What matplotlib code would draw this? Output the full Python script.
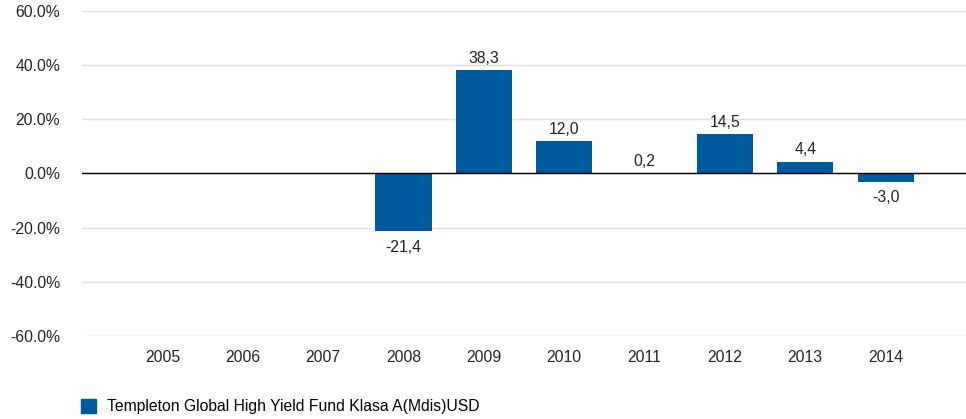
import matplotlib.pyplot as plt
from matplotlib.patches import Patch

plt.rcParams['font.family'] = ['Liberation Sans', 'DejaVu Sans']

years = ['2005', '2006', '2007', '2008', '2009', '2010', '2011', '2012', '2013', '2014']
returns = [None, None, None, -21.4, 38.3, 12.0, 0.2, 14.5, 4.4, -3.0]
series_name = 'Templeton Global High Yield Fund Klasa A(Mdis)USD'
bar_color = '#005a9e'
fs = 11.3

fig = plt.figure(figsize=(9.66, 4.19), dpi=100)
ax = fig.add_axes([0.085, 0.198, 0.915, 0.776])

for i, v in enumerate(returns):
    if v is None:
        continue
    ax.bar(i, v, width=0.7, color=bar_color, zorder=3)
    label = f'{v:.1f}'.replace('.', ',')
    if v >= 0:
        ax.annotate(label, (i, v), xytext=(0, 3), textcoords='offset points',
                    ha='center', va='bottom', fontsize=fs, color='#222222')
    else:
        ax.annotate(label, (i, v), xytext=(0, -6), textcoords='offset points',
                    ha='center', va='top', fontsize=fs, color='#222222')

ax.set_xlim(-1, len(years))
ax.set_ylim(-60, 60)
ax.set_yticks(range(-60, 61, 20))
ax.set_yticklabels([f'{t:.1f}%' for t in range(-60, 61, 20)], fontsize=fs, color='#222222')
ax.set_xticks(range(len(years)))
ax.set_xticklabels(years, fontsize=fs, color='#222222')
ax.tick_params(length=0)
ax.tick_params(axis='x', pad=10)
ax.tick_params(axis='y', pad=16)

ax.grid(axis='y', color='#e0e0e0', linewidth=1, zorder=0)
ax.axhline(0, color='black', linewidth=1, zorder=4)
for s in ax.spines.values():
    s.set_visible(False)

fig.legend(handles=[Patch(color=bar_color)], labels=[series_name],
           loc='lower left', bbox_to_anchor=(0.069, -0.022), frameon=False,
           fontsize=fs, handlelength=1.0, handleheight=1.0, handletextpad=0.7)

fig.savefig('out.png', dpi=100)
